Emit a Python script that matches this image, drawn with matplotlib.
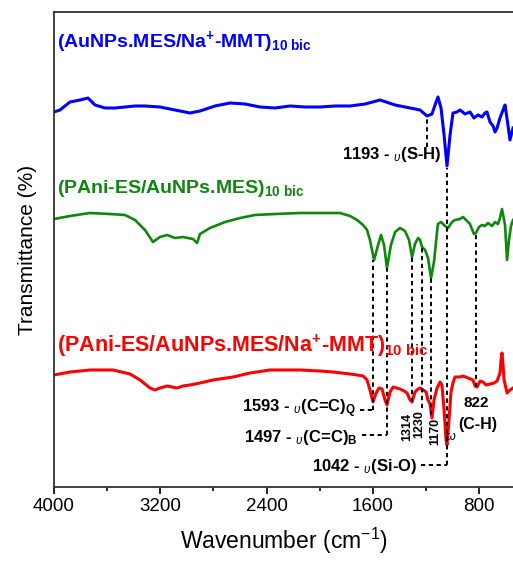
import matplotlib
matplotlib.use('Agg')
import matplotlib.pyplot as plt

plt.rcParams['font.family'] = ['Liberation Sans', 'DejaVu Sans']
plt.rcParams['mathtext.fontset'] = 'custom'
plt.rcParams['mathtext.rm'] = 'Liberation Sans'
plt.rcParams['mathtext.bf'] = 'Liberation Sans:bold'
plt.rcParams['mathtext.it'] = 'Liberation Sans:italic'

# FTIR spectra (wavenumber cm-1, transmittance in arbitrary offset units)
blue_wn = [4000, 3955, 3880, 3804, 3744, 3714, 3691, 3616, 3541, 3465,
           3390, 3315, 3202, 3089, 2976, 2901, 2788, 2675, 2562, 2449,
           2336, 2223, 2110, 1997, 1884, 1771, 1658, 1545, 1432, 1319,
           1244, 1191, 1154, 1131, 1109, 1086, 1063, 1041, 1018, 996,
           966, 943, 905, 868, 838, 808, 777, 755, 740, 717,
           694, 679, 664, 642, 619, 604, 582, 567, 544]
blue_t = [375, 377, 385, 387, 389, 385, 382, 379, 379, 380,
          381, 381, 380, 377, 374, 376, 381, 384, 383, 380,
          379, 381, 380, 380, 381, 381, 383, 387, 382, 379,
          377, 371, 373, 382, 390, 379, 352, 321, 352, 374,
          375, 377, 373, 375, 369, 372, 370, 374, 375, 365,
          361, 355, 359, 369, 377, 382, 362, 347, 359]

green_wn = [4000, 3880, 3729, 3578, 3465, 3390, 3315, 3255, 3202, 3149,
            3089, 3029, 2953, 2923, 2901, 2825, 2712, 2599, 2487, 2336,
            2148, 1997, 1846, 1771, 1718, 1673, 1643, 1621, 1590, 1560,
            1538, 1515, 1493, 1463, 1432, 1395, 1357, 1327, 1304, 1282,
            1259, 1244, 1229, 1206, 1184, 1161, 1139, 1116, 1109, 1086,
            1056, 1033, 1003, 981, 943, 920, 890, 868, 838, 823,
            800, 777, 755, 732, 702, 679, 657, 642, 627, 611,
            604, 589, 574, 559, 544]
green_t = [268, 271, 274, 273, 272, 267, 257, 245, 250, 252,
           249, 250, 248, 244, 253, 259, 265, 269, 272, 273,
           274, 274, 274, 271, 267, 262, 257, 247, 227, 242,
           252, 242, 219, 242, 255, 259, 256, 247, 230, 243,
           249, 247, 240, 237, 229, 209, 225, 255, 263, 265,
           261, 259, 265, 267, 268, 270, 266, 263, 253, 254,
           260, 262, 261, 264, 261, 265, 263, 269, 278, 267,
           262, 227, 247, 261, 267]

red_wn = [4000, 3880, 3729, 3556, 3428, 3352, 3277, 3239, 3202, 3149,
          3111, 3074, 3029, 2976, 2901, 2803, 2652, 2524, 2374, 2261,
          2148, 1997, 1899, 1771, 1718, 1673, 1643, 1621, 1598, 1575,
          1553, 1530, 1508, 1493, 1470, 1447, 1395, 1365, 1342, 1319,
          1304, 1282, 1259, 1244, 1221, 1199, 1184, 1169, 1154, 1139,
          1116, 1093, 1079, 1063, 1048, 1041, 1026, 1011, 996, 981,
          943, 920, 883, 845, 830, 815, 792, 770, 747, 717,
          687, 664, 642, 634, 627, 619, 611, 589, 567, 544]
red_t = [112, 115, 117, 117, 113, 107, 99, 97, 99, 101,
         100, 99, 101, 102, 104, 107, 110, 114, 117, 117,
         117, 116, 115, 113, 112, 111, 107, 97, 85, 94,
         99, 98, 87, 82, 95, 100, 98, 96, 94, 87,
         85, 95, 98, 99, 97, 95, 87, 83, 69, 87,
         99, 105, 102, 77, 47, 42, 67, 95, 104, 110,
         110, 111, 109, 107, 101, 100, 106, 105, 102, 103,
         104, 106, 114, 127, 134, 122, 107, 94, 97, 99]

# peak guide lines: wavenumber, upper and lower transmittance
peak_wn = [1191, 1041, 1595, 1495, 1302, 1231, 1161, 826]
peak_top = [371, 319, 227, 219, 230, 242, 209, 252]
peak_bot = [340, 22, 77, 52, 85, 79, 72, 100]
# horizontal leader lines: level, from, to
lead_t = [77, 52, 22]
lead_from = [1696, 1681, 1237]
lead_to = [1595, 1495, 1041]

xticks = [4000, 3200, 2400, 1600, 800]
xminor = [3600, 2800, 2000, 1200]

fig = plt.figure(figsize=(5.13, 5.62), dpi=100)
ax = fig.add_axes([54/513, 75/562, 459/513, 475/562])

ax.plot(blue_wn, blue_t, color='#0000FF', lw=2.2)
ax.plot(green_wn, green_t, color='#0E870E', lw=1.9)
ax.plot(red_wn, red_t, color='#FF0000', lw=2.2)

ax.vlines(peak_wn, peak_bot, peak_top, colors='black', linestyles=(0, (2.2, 1.8)), lw=1.4)
ax.hlines(lead_t, lead_from, lead_to, colors='black', linestyles=(0, (2.2, 1.8)), lw=1.4)

# sample names
ax.text(3977, 440, r'(AuNPs.MES/Na$^{\mathbf{+}}$-MMT)$_{\mathbf{10\ bic}}$',
        color='#0000FF', fontsize=14, fontweight='bold', va='baseline')
ax.text(3977, 294, r'(PAni-ES/AuNPs.MES)$_{\mathbf{10\ bic}}$',
        color='#0E870E', fontsize=14, fontweight='bold', va='baseline')
ax.text(3977, 135, r'(PAni-ES/AuNPs.MES/Na$^{\mathbf{+}}$-MMT)$_{\mathbf{10\ bic}}$',
        color='#FF0000', fontsize=15.5, fontweight='bold', va='baseline')

# band assignments
ax.text(1078, 328, r'1193 - $_{\upsilon}$(S-H)', fontsize=12, fontweight='bold',
        ha='right', va='baseline')
ax.text(1726, 75, r'1593 - $_{\upsilon}$(C=C)$_{\mathbf{Q}}$', fontsize=12,
        fontweight='bold', ha='right', va='baseline')
ax.text(1711, 45, r'1497 - $_{\upsilon}$(C=C)$_{\mathbf{B}}$', fontsize=12,
        fontweight='bold', ha='right', va='baseline')
ax.text(1267, 16, r'1042 - $_{\upsilon}$(Si-O)', fontsize=12, fontweight='bold',
        ha='right', va='baseline')
ax.text(1338, 74, '1314', fontsize=9, fontweight='bold', rotation=90,
        ha='center', va='top')
ax.text(1248, 77, '1230', fontsize=9, fontweight='bold', rotation=90,
        ha='center', va='top')
ax.text(1131, 69, '1170', fontsize=9, fontweight='bold', rotation=90,
        ha='center', va='top')
ax.text(822, 84, '822', fontsize=11, fontweight='bold', ha='center', va='center')
ax.text(1016, 50, r'$\omega$', fontsize=9, ha='center', va='center')
ax.text(958, 62, '(C-H)', fontsize=11.5, fontweight='bold', ha='left', va='center')

ax.set_xlim(4000, 544)
ax.set_ylim(0, 475)
ax.set_xticks(xticks)
ax.set_xticks(xminor, minor=True)
ax.set_yticks([])
ax.tick_params(axis='x', which='major', direction='out', length=5, width=1.2,
               labelsize=13.5, pad=3)
ax.tick_params(axis='x', which='minor', direction='out', length=3, width=1.2)
for side in ['left', 'bottom', 'top']:
    ax.spines[side].set_linewidth(1.3)
    ax.spines[side].set_color('#333333')
ax.spines['right'].set_visible(False)

ax.set_xlabel('Wavenumber (cm$^{-1}$)', fontsize=16.5, labelpad=8)
ax.set_ylabel('Transmittance (%)', fontsize=15, labelpad=12)

fig.savefig('out.png', dpi=100)
